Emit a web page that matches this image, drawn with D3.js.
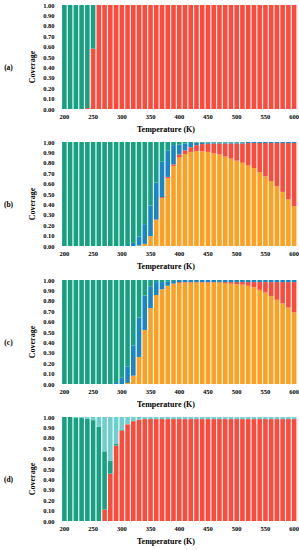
<!DOCTYPE html>
<html>
<head>
<meta charset="utf-8">
<script src="https://cdn.jsdelivr.net/npm/d3@7"></script>
<style>
  body { margin: 0; background: #fff; }
  text { font-family: "Liberation Serif", "Times New Roman", serif; font-weight: bold; fill: #000; }
</style>
</head>
<body>
<div id="chart"></div>
<script>
// Temperatures (K)
const temps = [200,210,220,230,240,250,260,270,280,290,300,310,320,330,340,350,360,370,380,390,
               400,410,420,430,440,450,460,470,480,490,500,510,520,530,540,550,560,570,580,590,600];
const yTicks = [0,0.1,0.2,0.3,0.4,0.5,0.6,0.7,0.8,0.9,1.0];
const xTicks = [200,250,300,350,400,450,500,550,600];

// (a)
const aGreen = [1,1,1,1,0.99,0.42,0,0,0,0,0,0,0,0,0,0,0,0,0,0,0,0,0,0,0,0,0,0,0,0,0,0,0,0,0,0,0,0,0,0,0];
const aRed   = [0,0,0,0,0.01,0.58,1,1,1,1,1,1,1,1,1,1,1,1,1,1,1,1,1,1,1,1,1,1,1,1,1,1,1,1,1,1,1,1,1,1,1];

// (b)
const bOrange = [0,0,0,0,0,0,0,0,0,0,0,0,0,0.005,0.02,0.095,0.25,0.46,0.65,0.77,
                 0.85,0.885,0.905,0.91,0.91,0.905,0.89,0.88,0.86,0.84,0.82,0.80,0.775,0.75,0.71,0.67,0.625,0.575,0.52,0.45,0.38];
const bRed    = [0,0,0,0,0,0,0,0,0,0,0,0,0,0,0,0,0.005,0.01,0.015,0.015,
                 0.03,0.035,0.045,0.06,0.07,0.078,0.095,0.105,0.125,0.145,0.165,0.185,0.215,0.24,0.28,0.32,0.365,0.415,0.47,0.54,0.61];
const bBlue   = [0,0,0,0,0,0,0,0,0,0,0,0.01,0.03,0.085,0.19,0.295,0.355,0.34,0.255,0.185,
                 0.095,0.065,0.04,0.025,0.015,0.012,0.01,0.01,0.01,0.01,0.01,0.01,0.01,0.01,0.01,0.01,0.01,0.01,0.01,0.01,0.01];
const bGreen  = [1,1,1,1,1,1,1,1,1,1,1,0.99,0.97,0.91,0.79,0.61,0.39,0.19,0.08,0.03,
                 0.025,0.015,0.01,0.005,0.005,0.005,0.005,0.005,0.005,0.005,0.005,0.005,0,0,0,0,0,0,0,0,0];

// (c)
const cOrange = [0,0,0,0,0,0,0,0,0,0,0,0.01,0.08,0.26,0.52,0.73,0.855,0.91,0.945,0.965,
                 0.97,0.975,0.975,0.975,0.975,0.975,0.975,0.975,0.97,0.965,0.96,0.955,0.945,0.93,0.905,0.88,0.845,0.81,0.775,0.735,0.69];
const cRed    = [0,0,0,0,0,0,0,0,0,0,0,0,0,0,0,0,0,0,0,0,
                 0.01,0.005,0.005,0.005,0.005,0.005,0.005,0.005,0.01,0.015,0.02,0.025,0.035,0.05,0.075,0.10,0.135,0.17,0.205,0.245,0.29];
const cBlue   = [0,0,0,0,0,0,0,0,0,0.01,0.06,0.16,0.29,0.38,0.33,0.21,0.125,0.07,0.04,0.025,
                 0.02,0.02,0.02,0.02,0.02,0.02,0.02,0.02,0.02,0.02,0.02,0.02,0.02,0.02,0.02,0.02,0.02,0.02,0.02,0.02,0.02];
const cGreen  = [1,1,1,1,1,1,1,1,1,0.99,0.94,0.83,0.63,0.36,0.15,0.06,0.02,0.02,0.015,0.01,
                 0,0,0,0,0,0,0,0,0,0,0,0,0,0,0,0,0,0,0,0,0];

// (d)
const dRed   = [0,0,0,0,0,0,0,0.11,0.455,0.725,0.87,0.93,0.96,0.975,0.98,0.98,0.98,0.98,0.98,0.98,
                0.98,0.98,0.98,0.98,0.98,0.98,0.98,0.98,0.98,0.98,0.98,0.98,0.98,0.98,0.98,0.98,0.98,0.98,0.98,0.98,0.98];
const dGreen = [1,1,0.99,0.99,0.985,0.97,0.905,0.56,0.125,0.015,0.005,0,0,0,0,0,0,0,0,0,
                0,0,0,0,0,0,0,0,0,0,0,0,0,0,0,0,0,0,0,0,0];
const dTeal  = [0,0,0.01,0.01,0.015,0.03,0.095,0.33,0.42,0.26,0.125,0.07,0.04,0.025,0.02,0.02,0.02,0.02,0.02,0.02,
                0.02,0.02,0.02,0.02,0.02,0.02,0.02,0.02,0.02,0.02,0.02,0.02,0.02,0.02,0.02,0.02,0.02,0.02,0.02,0.02,0.02];

const colors = {
    green: "#17a082",
    red: "#ff4a3b",
    orange: "#ffa020",
    blue: "#1b86c6",
    teal: "#6fcfcf"
};

// stacks listed bottom -> top
const panels = [
    { label: "(a)", top: 5,   series: [["red", aRed], ["green", aGreen]] },
    { label: "(b)", top: 142, series: [["orange", bOrange], ["red", bRed], ["blue", bBlue], ["green", bGreen]] },
    { label: "(c)", top: 280, series: [["orange", cOrange], ["red", cRed], ["blue", cBlue], ["green", cGreen]] },
    { label: "(d)", top: 417, series: [["red", dRed], ["green", dGreen], ["teal", dTeal]] }
];

const W = 299, H = 550;
const plotH = 104;

const svg = d3.select("#chart")
    .append("svg")
    .attr("width", W)
    .attr("height", H);

const x = d3.scaleBand()
    .domain(temps)
    .range([61.5, 297])
    .paddingInner(0.2)
    .paddingOuter(0.1);

panels.forEach(p => {
    const g = svg.append("g");
    const y = d3.scaleLinear()
        .domain([0, 1])
        .range([p.top + plotH, p.top]);

    const table = temps.map((t, i) => {
        const row = { t: t };
        p.series.forEach(([k, arr]) => { row[k] = arr[i]; });
        return row;
    });
    const keys = p.series.map(s => s[0]);
    const stacked = d3.stack().keys(keys)(table);

    g.selectAll("g.layer")
        .data(stacked)
        .enter()
        .append("g")
        .attr("fill", d => colors[d.key])
        .selectAll("rect")
        .data(d => d)
        .enter()
        .append("rect")
        .attr("x", d => x(d.data.t))
        .attr("width", x.bandwidth())
        .attr("y", d => y(Math.min(1, d[1])))
        .attr("height", d => Math.max(0, y(d[0]) - y(Math.min(1, d[1]))));

    // Y axis
    const yAxis = g.append("g")
        .attr("transform", `translate(${61.5},0)`)
        .call(d3.axisLeft(y).tickValues(yTicks).tickFormat(d3.format(".2f")).tickSize(0).tickPadding(7));
    yAxis.select(".domain").remove();
    yAxis.selectAll("text").style("font-size", "6.5px").style("font-family", "Liberation Serif").style("font-weight", "bold");

    // X axis
    const xAxis = g.append("g")
        .attr("transform", `translate(0,${p.top + plotH})`)
        .call(d3.axisBottom(x).tickValues(xTicks).tickSize(0).tickPadding(5));
    xAxis.select(".domain").remove();
    xAxis.selectAll("text").style("font-size", "6.5px").style("font-family", "Liberation Serif").style("font-weight", "bold");

    // Axis titles
    g.append("text")
        .attr("x", 166)
        .attr("y", p.top + plotH + 23)
        .attr("text-anchor", "middle")
        .style("font-size", "8px")
        .text("Temperature (K)");

    const cy = p.top + plotH / 2 + 10;
    g.append("text")
        .attr("transform", `translate(35,${cy}) rotate(-90)`)
        .attr("text-anchor", "middle")
        .style("font-size", "8px")
        .text("Coverage");

    g.append("text")
        .attr("x", 8.5)
        .attr("y", cy + 2.5)
        .attr("text-anchor", "middle")
        .style("font-size", "7.5px")
        .text(p.label);
});
</script>
</body>
</html>
